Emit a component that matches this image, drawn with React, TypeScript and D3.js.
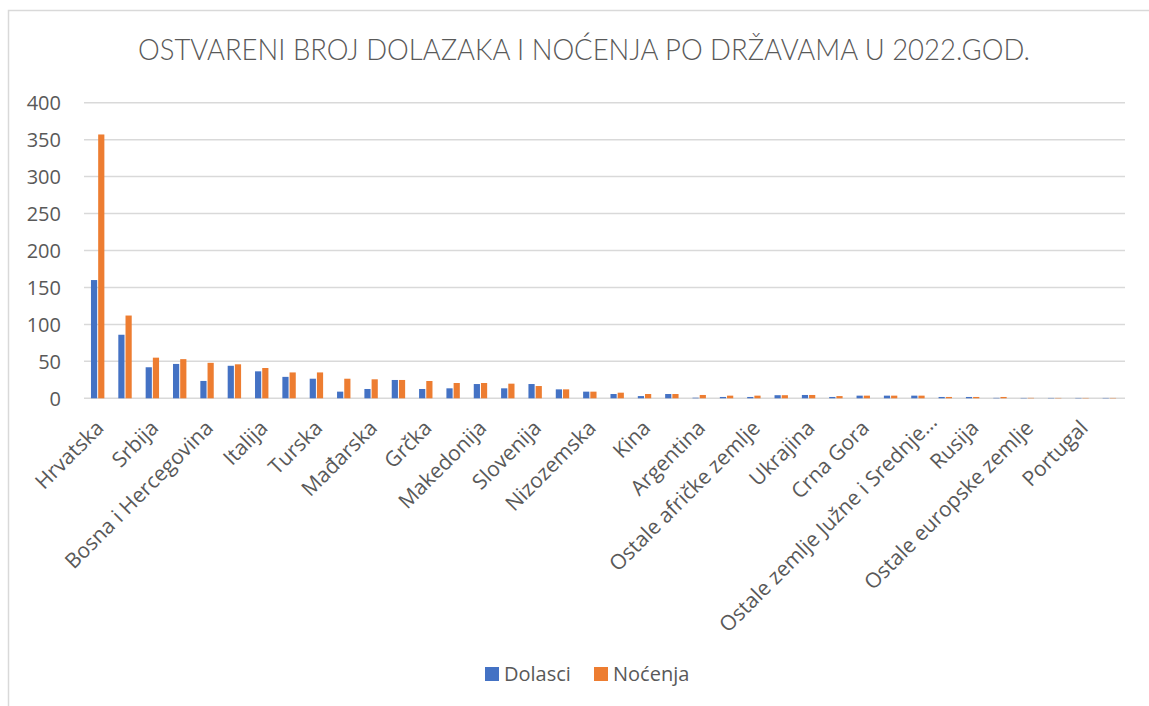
import React from "react";
import * as d3 from "d3";

const categories = [
  "Hrvatska", "Njemačka", "Srbija", "Austrija", "Bosna i Hercegovina", "Francuska",
  "Italija", "Poljska", "Turska", "Švicarska", "Mađarska", "Ujedinjeno Kraljevstvo",
  "Grčka", "SAD", "Makedonija", "Češka", "Slovenija", "Rumunjska", "Nizozemska",
  "Bugarska", "Kina", "Belgija", "Argentina", "Španjolska", "Ostale afričke zemlje",
  "Švedska", "Ukrajina", "Slovačka", "Crna Gora", "Japan",
  "Ostale zemlje Južne i Srednje Amerike", "Izrael", "Rusija", "Kanada",
  "Ostale europske zemlje", "Koreja", "Portugal", "Irska",
];

const dolasci = [
  160, 86, 42, 46.5, 23.5, 44, 36.5, 29, 26.5, 9, 12.6, 24.8, 12.6, 13.5, 19.3, 13.5,
  19.3, 12.1, 9, 5.8, 3, 5.8, 0.8, 1.8, 1.8, 4.2, 4.5, 1.8, 3.6, 3.6, 3.6, 1.8, 1.8,
  0.6, 0.5, 0.5, 0.5, 0.5,
];

const nocenja = [
  357, 112, 55, 53, 48, 46, 41, 35, 35, 26.5, 25.7, 24.8, 23.4, 20.7, 20.7, 19.8,
  16.6, 12.1, 9, 7.6, 5.8, 5.8, 4.5, 3.6, 3.6, 4.2, 4.5, 3, 3.6, 3.6, 3.6, 1.8, 1.8,
  1.8, 0.6, 0.5, 0.5, 0.5,
];

const yTicks = [0, 50, 100, 150, 200, 250, 300, 350, 400];

const title = "OSTVARENI BROJ DOLAZAKA I NOĆENJA PO DRŽAVAMA U 2022.GOD.";
const seriesNames = ["Dolasci", "Noćenja"];
const colors = ["#4472C4", "#ED7D31"];

const W = 1149;
const H = 706;
const FONT = "'Open Sans', sans-serif";
const TEXT = "#595959";

export default function App() {
  const x = d3.scaleBand<string>().domain(categories).range([84, 1123]).padding(0);
  const y = d3.scaleLinear().domain([0, 400]).range([398.3, 102.7]);
  const bw = x.bandwidth();
  const barW = 6.2;

  return (
    <svg
      width={W}
      height={H}
      style={{ position: "absolute", left: 0, top: 0, background: "#fff" }}
      fontFamily={FONT}
    >
      <rect x={8.5} y={10.5} width={W + 20} height={H + 20} fill="#fff" stroke="#d9d9d9" strokeWidth={1.5} />
      <text
        x={138}
        y={60}
        fontSize={29.5}
        fill={TEXT}
        fontFamily="Lato, sans-serif"
        fontWeight={300}
        textLength={892}
        lengthAdjust="spacingAndGlyphs"
      >
        {title}
      </text>
      {yTicks.map((t) => (
        <g key={t}>
          <line x1={84} x2={1125} y1={y(t)} y2={y(t)} stroke="#d9d9d9" strokeWidth={1.5} />
          <text x={61} y={y(t)} dy="0.36em" textAnchor="end" fontSize={20} fill={TEXT}>
            {t}
          </text>
        </g>
      ))}
      {categories.map((c, i) => {
        const cx = (x(c) as number) + bw / 2;
        return (
          <g key={c}>
            <rect x={cx - barW - 0.5} y={y(dolasci[i])} width={barW} height={y(0) - y(dolasci[i])} fill={colors[0]} />
            <rect x={cx + 0.5} y={y(nocenja[i])} width={barW} height={y(0) - y(nocenja[i])} fill={colors[1]} />
          </g>
        );
      })}
      {categories.map((c, i) => {
        if (i % 2 !== 0) return null;
        const cx = (x(c) as number) + bw / 2;
        const truncated = c.length > 30;
        const label = truncated ? "Ostale zemlje Južne i Srednje…" : c;
        const ax = cx + (truncated ? 15 : 2);
        const ay = truncated ? 418 : 424;
        return (
          <text
            key={"l" + c}
            transform={`translate(${ax},${ay}) rotate(-45)`}
            textAnchor="end"
            dy="0.36em"
            fontSize={21}
            fill={TEXT}
          >
            {label}
          </text>
        );
      })}
      {seriesNames.map((s, i) => {
        const lx = i === 0 ? 485 : 594;
        return (
          <g key={s}>
            <rect x={lx} y={667} width={14} height={14} fill={colors[i]} />
            <text x={lx + 19} y={674} dy="0.36em" fontSize={20} fill={TEXT}>
              {s}
            </text>
          </g>
        );
      })}
    </svg>
  );
}
